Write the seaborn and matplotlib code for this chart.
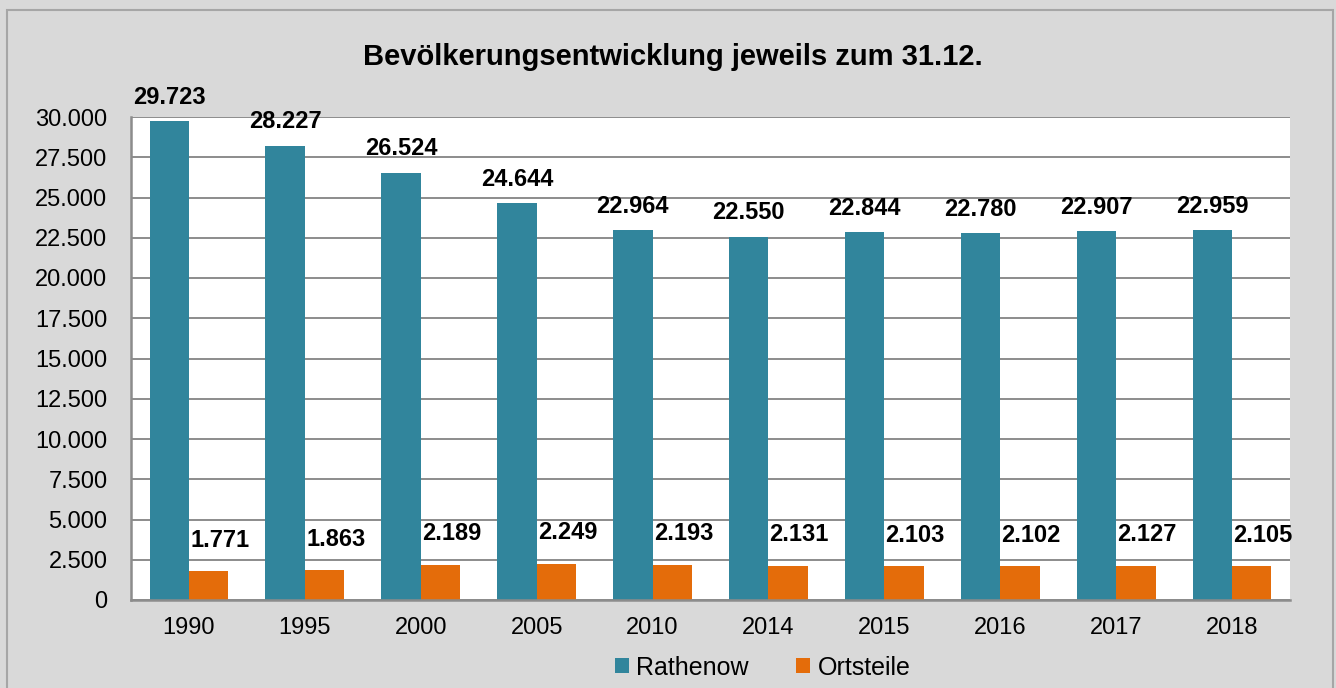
import pandas as pd
import seaborn as sns
import matplotlib.pyplot as plt
from matplotlib.patches import Rectangle

# data
years = ['1990', '1995', '2000', '2005', '2010', '2014', '2015', '2016', '2017', '2018']
rathenow = [29723, 28227, 26524, 24644, 22964, 22550, 22844, 22780, 22907, 22959]
ortsteile = [1771, 1863, 2189, 2249, 2193, 2131, 2103, 2102, 2127, 2105]
series_names = ['Rathenow', 'Ortsteile']
y_ticks = list(range(0, 30001, 2500))

df = pd.DataFrame({
    'Jahr': years * 2,
    'Einwohner': rathenow + ortsteile,
    'Gebiet': [series_names[0]] * len(years) + [series_names[1]] * len(years),
})

sns.set_theme(style='white')
plt.rcParams['font.family'] = ['Liberation Sans', 'DejaVu Sans']
plt.rcParams['text.color'] = 'black'
plt.rcParams['xtick.color'] = 'black'
plt.rcParams['ytick.color'] = 'black'

bg = '#d9d9d9'
grid_col = '#8c8c8c'
colors = ['#31859c', '#e46c0a']

fig = plt.figure(figsize=(13.36, 6.88), dpi=100, facecolor=bg)
ax = fig.add_axes([131 / 1336, 1 - 600 / 688, (1290 - 131) / 1336, (600 - 117) / 688])
ax.set_facecolor('white')

# outer chart border
fig.patches.append(Rectangle((7 / 1336, -0.1), (1333 - 7) / 1336, 1.1 - 10 / 688,
                             transform=fig.transFigure, fill=False,
                             edgecolor='#a6a6a6', linewidth=1.5, zorder=0))

sns.barplot(data=df, x='Jahr', y='Einwohner', hue='Gebiet', palette=colors,
            width=0.68, saturation=1, ax=ax, legend=True, edgecolor='none')

ax.set_ylim(0, 30000)
ax.set_xlim(-0.5, len(years) - 0.5)
ax.set_yticks(y_ticks)
ax.set_yticklabels([f'{v:,}'.replace(',', '.') for v in y_ticks], fontsize=17)
ax.yaxis.grid(True, color=grid_col, linewidth=1.4)
ax.set_axisbelow(True)
ax.set_xlabel('')
ax.set_ylabel('')
ax.tick_params(axis='x', which='major', length=0, labelsize=17, pad=12)
ax.set_xticks([i - 0.5 for i in range(len(years) + 1)], minor=True)
ax.tick_params(axis='x', which='minor', length=6, width=1.5, color=grid_col, direction='out')
ax.tick_params(axis='y', length=7, width=1.5, color=grid_col, labelcolor='black',
               direction='out', pad=10)

for s in ['top', 'right']:
    ax.spines[s].set_visible(False)
for s in ['left', 'bottom']:
    ax.spines[s].set_color(grid_col)
    ax.spines[s].set_linewidth(1.8)

# value labels
for i, cont in enumerate(ax.containers):
    for bar in cont:
        h = bar.get_height()
        lbl = f'{int(h):,}'.replace(',', '.')
        dx, dy = (0, 9) if i == 0 else (8, 14)
        ax.annotate(lbl, (bar.get_x() + bar.get_width() / 2, h),
                    xytext=(dx, dy), textcoords='offset points',
                    ha='center', va='bottom', fontsize=17, fontweight='bold',
                    color='black', annotation_clip=False)

fig.text(0.504, 1 - 57 / 688, 'Bevölkerungsentwicklung jeweils zum 31.12.',
         ha='center', va='center', fontsize=21, fontweight='bold', color='black')

leg = ax.legend(loc='center', bbox_to_anchor=(0.545, -0.14), ncol=2, frameon=False,
                fontsize=18, handlelength=0.55, handleheight=0.55, handletextpad=0.3,
                columnspacing=1.9)

fig.savefig('out.png', dpi=100, facecolor=bg)
